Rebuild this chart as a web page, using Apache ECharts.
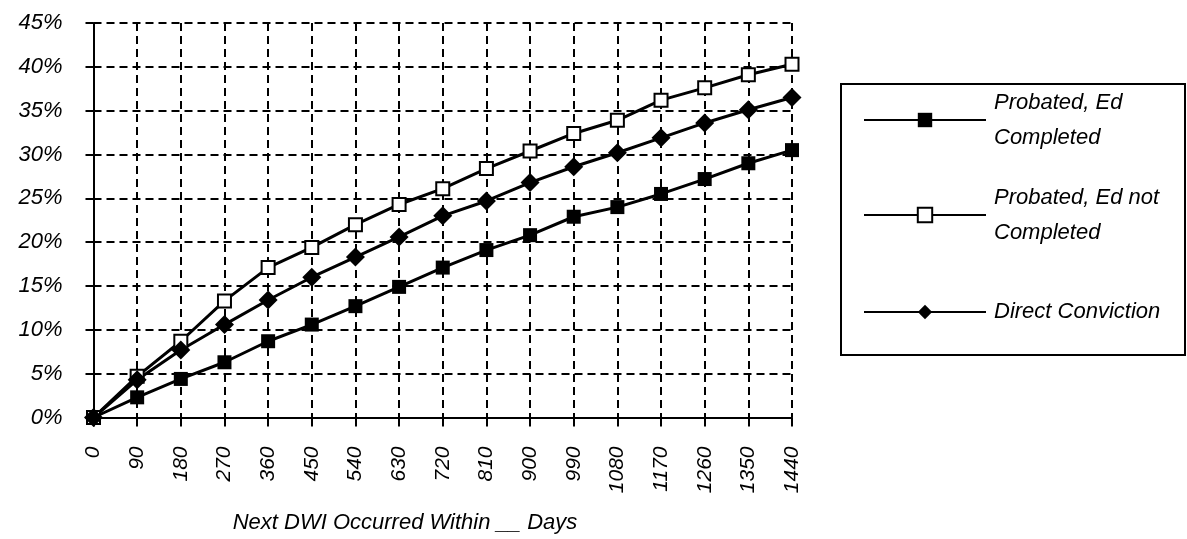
<!DOCTYPE html>
<html>
<head>
<meta charset="utf-8">
<script src="https://cdn.jsdelivr.net/npm/echarts@6/dist/echarts.min.js"></script>
<style>
html,body{margin:0;padding:0;background:#fff;}
#chart{width:1187px;height:539px;}
</style>
</head>
<body>
<div id="chart"></div>
<script>
// Categories: days
var days = ['0','90','180','270','360','450','540','630','720','810','900','990','1080','1170','1260','1350','1440'];
// Series values (percent)
var edCompleted = [0, 2.3, 4.4, 6.3, 8.7, 10.6, 12.7, 14.9, 17.1, 19.1, 20.8, 22.9, 24.0, 25.5, 27.2, 29.0, 30.5];
var edNotCompleted = [0, 4.7, 8.7, 13.3, 17.1, 19.4, 22.0, 24.3, 26.1, 28.4, 30.4, 32.4, 33.9, 36.2, 37.6, 39.1, 40.3];
var directConviction = [0, 4.3, 7.7, 10.6, 13.4, 16.0, 18.3, 20.6, 23.0, 24.7, 26.8, 28.6, 30.2, 31.9, 33.6, 35.1, 36.5];
// Names
var names = ['Probated, Ed Completed', 'Probated, Ed not Completed', 'Direct Conviction'];
var legendLabels = ['Probated, Ed\nCompleted', 'Probated, Ed not\nCompleted', 'Direct Conviction'];
var xTitle = 'Next DWI Occurred Within __ Days';

var FONT = "'Liberation Sans', Arial, sans-serif";
var chart = echarts.init(document.getElementById('chart'), null, {renderer: 'canvas'});

function legendFor(i, top, twoLine) {
  return {
    data: [names[i]],
    left: 863,
    top: top,
    padding: 0,
    itemWidth: 122,
    itemHeight: 18,
    selectedMode: false,
    lineStyle: {width: 2},
    formatter: function () { return legendLabels[i]; },
    textStyle: {
      fontFamily: FONT, fontSize: 22, fontStyle: 'italic', color: '#000',
      lineHeight: 35,
      padding: twoLine ? [35, 0, 0, 3] : [0, 0, 0, 3]
    }
  };
}

var option = {
  animation: false,
  backgroundColor: '#fff',
  grid: {left: 93.5, right: 395, top: 23, bottom: 121.5, containLabel: false, outerBoundsMode: 'none'},
  legend: [
    legendFor(0, 67.5, true),
    legendFor(1, 162.5, true),
    legendFor(2, 294.5, false)
  ],
  graphic: [{
    type: 'rect',
    shape: {x: 841, y: 84, width: 344, height: 271},
    style: {fill: 'none', stroke: '#000', lineWidth: 2},
    silent: true
  }, {
    type: 'text',
    x: 405, y: 523,
    style: {
      text: xTitle, fill: '#000',
      font: "italic 22px 'Liberation Sans', Arial, sans-serif",
      textAlign: 'center', textVerticalAlign: 'middle'
    },
    silent: true
  }],
  xAxis: {
    type: 'category',
    data: days,
    boundaryGap: false,
    axisLine: {lineStyle: {color: '#000', width: 2}},
    axisTick: {show: true, length: 9, lineStyle: {color: '#000', width: 2}, interval: 0},
    axisLabel: {interval: 0, rotate: 90, margin: 29, fontFamily: FONT, fontSize: 21, fontStyle: 'italic', color: '#000'},
    splitLine: {show: true, interval: 0, lineStyle: {color: '#000', width: 2, type: [8, 5]}}
  },
  yAxis: {
    type: 'value',
    min: 0, max: 45, interval: 5,
    axisLine: {show: true, lineStyle: {color: '#000', width: 2}},
    axisTick: {show: true, length: 8, lineStyle: {color: '#000', width: 2}},
    axisLabel: {formatter: '{value}%', margin: 31, fontFamily: FONT, fontSize: 22, fontStyle: 'italic', color: '#000'},
    splitLine: {show: true, lineStyle: {color: '#000', width: 2, type: [8, 5]}}
  },
  series: [
    {
      name: names[0], type: 'line', data: edCompleted,
      symbol: 'rect', symbolSize: 14,
      lineStyle: {color: '#000', width: 3},
      itemStyle: {color: '#000', borderColor: '#000', borderWidth: 0}
    },
    {
      name: names[1], type: 'line', data: edNotCompleted,
      symbol: 'rect', symbolSize: 13,
      lineStyle: {color: '#000', width: 3},
      itemStyle: {color: '#fff', borderColor: '#000', borderWidth: 2}
    },
    {
      name: names[2], type: 'line', data: directConviction,
      symbol: 'diamond', symbolSize: 19,
      lineStyle: {color: '#000', width: 3},
      itemStyle: {color: '#000', borderColor: '#000', borderWidth: 0}
    }
  ]
};
chart.setOption(option);
</script>
</body>
</html>
